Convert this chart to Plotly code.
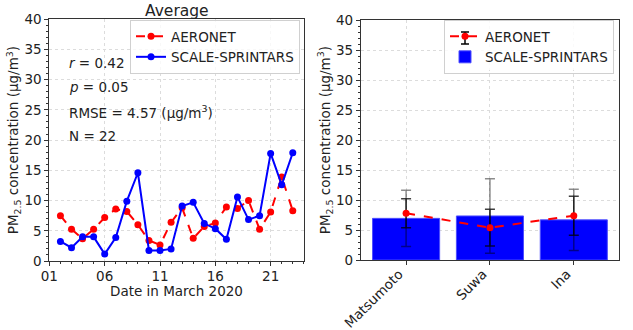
import plotly.graph_objects as go

# Daily mean PM2.5, March 2020
days = list(range(2, 24))
aeronet = [7.5, 5.25, 3.7, 5.25, 7.2, 8.6, 8.2, 6.0, 3.4, 2.65, 6.4, 8.8,
           3.75, 5.7, 6.3, 8.95, 8.7, 10.0, 5.25, 8.1, 13.9, 8.3]
sprintars = [3.25, 2.2, 4.0, 4.0, 1.15, 3.9, 9.9, 14.6, 1.75, 1.75, 2.0, 9.1,
             9.7, 6.2, 5.35, 3.6, 10.6, 6.85, 7.5, 17.8, 12.6, 17.9]
day_ticks = [1, 6, 11, 16, 21]
day_labels = ["01", "06", "11", "16", "21"]

# Site means and standard deviations
sites = ["Matsumoto", "Suwa", "Ina"]
site_model = [6.95, 7.35, 6.7]
site_model_sd = [4.7, 6.2, 5.1]
site_obs = [7.8, 5.4, 7.4]
site_obs_sd = [2.4, 3.05, 3.25]

stats_lines = ["<i>r</i> = 0.42", "<i>p</i> = 0.05",
               "RMSE = 4.57 (μg/m<sup>3</sup>)", "N = 22"]

FONT = "DejaVu Sans"
RED = "#ff0000"
BLUE = "#0000ff"
AX = "#333333"
GRID = "#dcdcdc"
W, H = 633, 330


def px(x):
    return x / W


def py(y):
    return 1 - y / H


fig = go.Figure()

fig.add_trace(go.Scatter(
    x=days, y=aeronet, mode="lines+markers", name="AERONET",
    line=dict(color=RED, width=2, dash="dash"),
    marker=dict(color=RED, size=7), xaxis="x", yaxis="y", legend="legend"))
fig.add_trace(go.Scatter(
    x=days, y=sprintars, mode="lines+markers", name="SCALE-SPRINTARS",
    line=dict(color=BLUE, width=2),
    marker=dict(color=BLUE, size=7), xaxis="x", yaxis="y", legend="legend"))

site_x = list(range(len(sites)))
fig.add_trace(go.Bar(
    x=site_x, y=site_model, name="SCALE-SPRINTARS", width=0.8,
    marker=dict(color=BLUE, line=dict(color="#4d4dff", width=1)),
    error_y=dict(type="data", array=site_model_sd, visible=True,
                 color="rgba(0,0,0,0.45)", thickness=1.5, width=5),
    xaxis="x2", yaxis="y2", legend="legend2"))
fig.add_trace(go.Scatter(
    x=site_x, y=site_obs, mode="lines+markers", name="AERONET",
    line=dict(color=RED, width=2, dash="dash"),
    marker=dict(color=RED, size=7),
    error_y=dict(type="data", array=site_obs_sd, visible=True,
                 color="rgba(0,0,0,0.75)", thickness=1.5, width=5),
    xaxis="x2", yaxis="y2", legend="legend2"))

axis_common = dict(
    showline=True, linecolor=AX, linewidth=1, mirror=True,
    ticks="outside", ticklen=4, tickcolor=AX, tickwidth=1,
    showgrid=True, gridcolor=GRID, griddash="dot", gridwidth=1,
    zeroline=False, automargin=False,
    tickfont=dict(family=FONT, size=13.5, color="#222"),
)
ylabel = "PM<sub>2.5</sub> concentration (μg/m<sup>3</sup>)"

LEG_TOP = 20
fig.update_layout(
    width=W, height=H,
    margin=dict(l=0, r=0, t=0, b=0, autoexpand=False),
    paper_bgcolor="white", plot_bgcolor="white",
    font=dict(family=FONT, size=13, color="#222"),
    showlegend=True,
    xaxis=dict(domain=[0.078, 0.480], range=[1, 24], tickvals=day_ticks,
               ticktext=day_labels, ticklabelstandoff=-1,
               minor=dict(ticks="outside", dtick=1, tick0=1, ticklen=2,
                          tickcolor=AX, showgrid=False),
               **axis_common),
    yaxis=dict(domain=[0.209, 0.942], range=[0, 40], dtick=5,
               minor=dict(ticks="outside", dtick=1, ticklen=2,
                          tickcolor=AX, showgrid=False),
               title=dict(text=ylabel, font=dict(family=FONT, size=13.5),
                          standoff=2),
               **axis_common),
    xaxis2=dict(domain=[0.570, 0.978], range=[-0.54, 2.54], tickvals=site_x,
                ticktext=sites, tickangle=-45, anchor="y2",
                ticklabelshift=-7, ticklabelstandoff=-4,
                **axis_common),
    yaxis2=dict(domain=[0.212, 0.939], range=[0, 40], dtick=5, anchor="x2",
                minor=dict(ticks="outside", dtick=1, ticklen=2,
                           tickcolor=AX, showgrid=False),
                title=dict(text=ylabel, font=dict(family=FONT, size=13.5),
                           standoff=2),
                **axis_common),
    legend=dict(x=px(130), y=py(LEG_TOP), xanchor="left", yanchor="top",
                bgcolor="rgba(255,255,255,0.8)", bordercolor="#d0d0d0",
                borderwidth=1, font=dict(family=FONT, size=13.5),
                tracegroupgap=0, itemwidth=30),
    legend2=dict(x=px(444), y=py(LEG_TOP), xanchor="left", yanchor="top",
                 bgcolor="rgba(0,0,0,0)", bordercolor="#d0d0d0",
                 borderwidth=1, font=dict(family=FONT, size=13.5),
                 tracegroupgap=0, itemwidth=30, traceorder="reversed"),
)

# White backing for the right legend, with an error-bar glyph beside AERONET
fig.add_shape(type="rect", xref="paper", yref="paper",
              x0=px(445), x1=px(611), y0=py(LEG_TOP + 1), y1=py(LEG_TOP + 50),
              fillcolor="rgba(255,255,255,0.85)", line=dict(width=0),
              layer="above")
gx, gy = 465, LEG_TOP + 18
for seg in [(gx, gy - 6, gx, gy + 6), (gx - 4, gy - 6, gx + 4, gy - 6),
            (gx - 4, gy + 6, gx + 4, gy + 6)]:
    fig.add_shape(type="line", xref="paper", yref="paper",
                  x0=px(seg[0]), y0=py(seg[1]), x1=px(seg[2]), y1=py(seg[3]),
                  line=dict(color="black", width=1.5), layer="above")

fig.add_annotation(text="Average", x=0.279, y=1.0, xref="paper", yref="paper",
                   xanchor="center", yanchor="top", showarrow=False,
                   font=dict(family=FONT, size=15.5, color="#222"))

fig.add_annotation(text="Date in March 2020", x=0.279, y=py(291),
                   xref="paper", yref="paper", xanchor="center",
                   yanchor="middle", showarrow=False,
                   font=dict(family=FONT, size=13.5, color="#222"))

for i, line in enumerate(stats_lines):
    fig.add_annotation(text=line, x=0.106, y=py(63 + 24.3 * i),
                       xref="paper", yref="paper", xanchor="left",
                       yanchor="middle", showarrow=False,
                       font=dict(family=FONT, size=13.5, color="#222"))

fig.write_html("out.html")
